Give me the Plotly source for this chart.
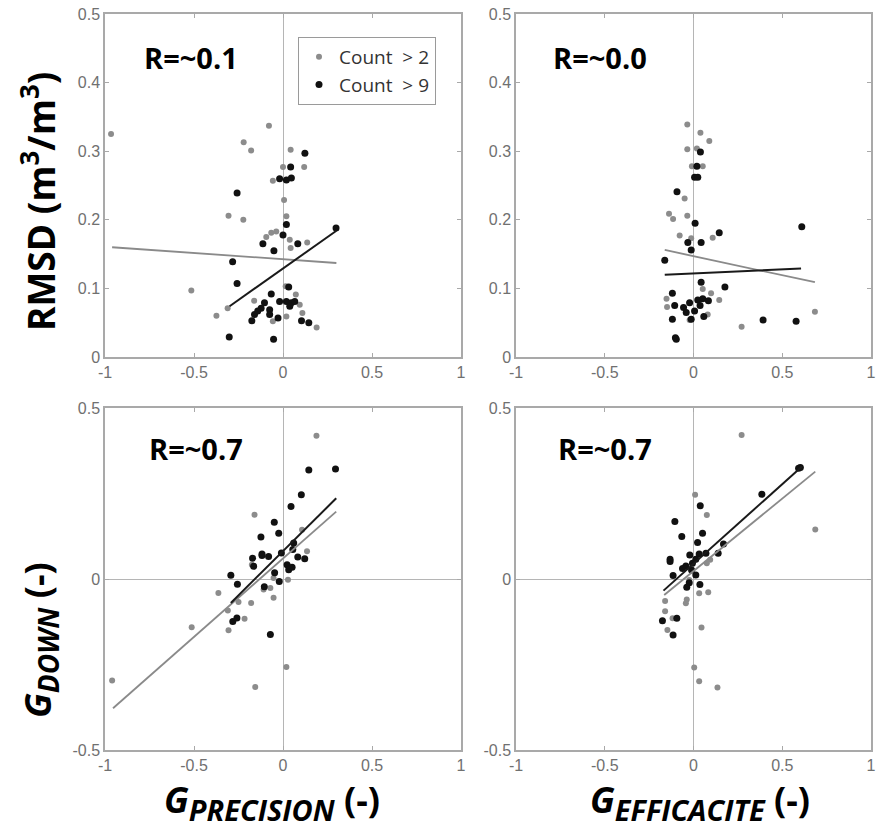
import plotly.graph_objects as go

# ---------------- data ----------------
# Panel A: RMSD vs G_PRECISION
tl_gray_x = [-0.966, -0.079, -0.221, -0.179, 0.043, 0.000, 0.119, -0.057, 0.006, -0.306, -0.223, 0.019,
             -0.094, -0.066, -0.038, 0.038, 0.043, 0.136, -0.515, -0.311, -0.374, -0.162, -0.057, 0.019,
             0.072, 0.094, 0.109, 0.189, 0.015]
tl_gray_y = [0.325, 0.337, 0.313, 0.301, 0.302, 0.277, 0.277, 0.257, 0.229, 0.206, 0.200, 0.205,
             0.175, 0.181, 0.183, 0.171, 0.159, 0.167, 0.097, 0.071, 0.060, 0.082, 0.052, 0.059,
             0.091, 0.076, 0.064, 0.043, 0.103]
tl_black_x = [0.123, 0.043, -0.019, 0.019, 0.047, -0.258, 0.019, 0.000, -0.113, 0.083, -0.051, 0.298,
              -0.283, -0.258, -0.066, 0.032, -0.019, 0.019, 0.047, 0.066, 0.038, -0.104, -0.123, -0.142,
              -0.160, -0.075, -0.075, -0.175, -0.028, 0.104, 0.145, -0.302, -0.053]
tl_black_y = [0.297, 0.277, 0.260, 0.258, 0.261, 0.239, 0.193, 0.178, 0.165, 0.165, 0.155, 0.188,
              0.139, 0.107, 0.092, 0.102, 0.081, 0.081, 0.079, 0.081, 0.074, 0.079, 0.071, 0.067,
              0.062, 0.069, 0.062, 0.053, 0.057, 0.053, 0.050, 0.029, 0.026]
tl_gray_fit_x = [-0.96, 0.30]
tl_gray_fit_y = [0.160, 0.137]
tl_black_fit_x = [-0.30, 0.30]
tl_black_fit_y = [0.074, 0.184]

# Panel B: RMSD vs G_EFFICACITE
tr_gray_x = [-0.035, 0.039, 0.089, -0.035, 0.019, -0.009, 0.052, -0.050, -0.138, -0.115, -0.035, -0.078,
             -0.013, 0.108, -0.152, -0.149, 0.099, 0.145, 0.080, 0.271, 0.684, -0.022, 0.052]
tr_gray_y = [0.339, 0.327, 0.315, 0.303, 0.304, 0.278, 0.278, 0.231, 0.209, 0.201, 0.206, 0.177,
             0.173, 0.174, 0.085, 0.073, 0.093, 0.083, 0.062, 0.044, 0.066, 0.054, 0.099]
tr_black_x = [0.039, 0.019, 0.006, 0.024, -0.093, 0.009, 0.145, -0.032, 0.043, -0.013, -0.162, 0.610,
              0.043, 0.177, -0.119, -0.106, -0.056, -0.022, 0.024, 0.052, 0.084, -0.041, 0.006, 0.037,
              -0.119, -0.013, 0.058, 0.392, 0.578, -0.102, -0.097]
tr_black_y = [0.299, 0.278, 0.262, 0.262, 0.241, 0.195, 0.181, 0.167, 0.167, 0.156, 0.141, 0.190,
              0.109, 0.102, 0.093, 0.075, 0.072, 0.079, 0.083, 0.085, 0.082, 0.065, 0.067, 0.075,
              0.055, 0.055, 0.059, 0.054, 0.052, 0.028, 0.026]
tr_gray_fit_x = [-0.162, 0.684]
tr_gray_fit_y = [0.156, 0.109]
tr_black_fit_x = [-0.162, 0.606]
tr_black_fit_y = [0.120, 0.129]

# Panel C: G_DOWN vs G_PRECISION
bl_gray_x = [-0.960, 0.188, -0.160, -0.513, -0.363, -0.310, -0.306, -0.250, -0.179, -0.216, -0.053,
             -0.156, 0.019, 0.135, -0.071, -0.175, 0.028, 0.107, -0.109, -0.053]
bl_gray_y = [-0.297, 0.419, 0.188, -0.141, -0.041, -0.092, -0.150, -0.067, -0.070, -0.116, -0.055,
             -0.316, -0.257, 0.081, -0.026, 0.042, -0.002, 0.144, -0.031, 0.003]
bl_black_x = [0.295, 0.145, 0.103, 0.045, -0.049, -0.024, -0.124, -0.171, -0.118, -0.081, -0.009, 0.060,
              0.055, 0.083, 0.122, 0.023, 0.032, 0.051, -0.047, -0.021, -0.165, -0.293, -0.256, -0.105,
              -0.282, -0.259, -0.071, -0.118]
bl_black_y = [0.322, 0.319, 0.246, 0.212, 0.166, 0.134, 0.123, 0.061, 0.069, 0.066, 0.076, 0.105,
              0.086, 0.064, 0.059, 0.042, 0.027, 0.034, 0.018, -0.007, 0.037, 0.011, -0.015, -0.023,
              -0.124, -0.114, -0.162, 0.073]
bl_gray_fit_x = [-0.955, 0.299]
bl_gray_fit_y = [-0.378, 0.197]
bl_black_fit_x = [-0.293, 0.299]
bl_black_fit_y = [-0.070, 0.236]

# Panel D: G_DOWN vs G_EFFICACITE
br_gray_x = [0.271, 0.009, 0.075, 0.686, 0.094, 0.032, 0.083, -0.038, -0.043, -0.160, -0.160, -0.118,
             -0.147, 0.045, 0.004, 0.032, 0.135, -0.024, 0.075]
br_gray_y = [0.421, 0.246, 0.187, 0.145, 0.056, -0.042, -0.039, -0.060, -0.071, -0.064, -0.094, -0.115,
             -0.149, -0.142, -0.259, -0.299, -0.317, -0.003, 0.046]
br_black_x = [0.602, 0.592, 0.385, 0.038, -0.105, 0.051, -0.066, 0.023, 0.169, -0.132, -0.132, -0.021,
              0.032, 0.070, 0.139, -0.043, -0.006, 0.013, -0.011, 0.013, -0.115, -0.024, 0.036, -0.038,
              -0.175, -0.094, -0.115, -0.062]
br_black_y = [0.326, 0.324, 0.248, 0.214, 0.168, 0.134, 0.124, 0.107, 0.102, 0.058, 0.051, 0.070,
              0.073, 0.075, 0.075, 0.038, 0.046, 0.058, 0.026, 0.012, 0.010, -0.011, -0.016, -0.024,
              -0.122, -0.115, -0.164, 0.031]
br_gray_fit_x = [-0.165, 0.686]
br_gray_fit_y = [-0.047, 0.314]
br_black_fit_x = [-0.169, 0.611]
br_black_fit_y = [-0.034, 0.329]

r_labels = ["R=~0.1", "R=~0.0", "R=~0.7", "R=~0.7"]
legend_names = ["Count\u00a0\u00a0> 2", "Count\u00a0\u00a0> 9"]

x_ticks = [-1, -0.5, 0, 0.5, 1]
x_tick_text = ["-1", "-0.5", "0", "0.5", "1"]
top_y_ticks = [0, 0.1, 0.2, 0.3, 0.4, 0.5]
top_y_tick_text = ["0", "0.1", "0.2", "0.3", "0.4", "0.5"]
bot_y_ticks = [-0.5, 0, 0.5]
bot_y_tick_text = ["-0.5", "0", "0.5"]

# ---------------- style ----------------
W, H = 877, 833
GRAY = "#8c8c8c"
BLACK = "#111111"
GRAY_LINE = "#8a8a8a"
BLACK_LINE = "#1a1a1a"
AXIS_COL = "#a9a9a9"
TICK_FONT = dict(family="Liberation Sans, Arial, sans-serif", size=16, color="#707070")
BOLD_FONT = "Open Sans, Noto Sans, sans-serif"

def px_x(p):
    return p / W

def px_y(p):
    return 1 - p / H

left_dom = [px_x(105), px_x(461)]
right_dom = [px_x(516), px_x(871)]
top_dom = [px_y(357), px_y(14)]
bot_dom = [px_y(750), px_y(408)]

panels = [
    (tl_gray_x, tl_gray_y, tl_black_x, tl_black_y, tl_gray_fit_x, tl_gray_fit_y, tl_black_fit_x, tl_black_fit_y),
    (tr_gray_x, tr_gray_y, tr_black_x, tr_black_y, tr_gray_fit_x, tr_gray_fit_y, tr_black_fit_x, tr_black_fit_y),
    (bl_gray_x, bl_gray_y, bl_black_x, bl_black_y, bl_gray_fit_x, bl_gray_fit_y, bl_black_fit_x, bl_black_fit_y),
    (br_gray_x, br_gray_y, br_black_x, br_black_y, br_gray_fit_x, br_gray_fit_y, br_black_fit_x, br_black_fit_y),
]

fig = go.Figure()
for i, (gx, gy, bx, by, gfx, gfy, bfx, bfy) in enumerate(panels):
    xa = "x" if i == 0 else f"x{i+1}"
    ya = "y" if i == 0 else f"y{i+1}"
    fig.add_trace(go.Scatter(x=gx, y=gy, mode="markers", xaxis=xa, yaxis=ya,
                             marker=dict(color=GRAY, size=6, line=dict(width=0)),
                             name=legend_names[0], showlegend=(i == 0)))
    fig.add_trace(go.Scatter(x=bx, y=by, mode="markers", xaxis=xa, yaxis=ya,
                             marker=dict(color=BLACK, size=7, line=dict(width=0)),
                             name=legend_names[1], showlegend=(i == 0)))
    fig.add_trace(go.Scatter(x=gfx, y=gfy, mode="lines", xaxis=xa, yaxis=ya,
                             line=dict(color=GRAY_LINE, width=1.8), showlegend=False))
    fig.add_trace(go.Scatter(x=bfx, y=bfy, mode="lines", xaxis=xa, yaxis=ya,
                             line=dict(color=BLACK_LINE, width=2), showlegend=False))

def axis_common():
    return dict(showline=True, linecolor=AXIS_COL, linewidth=1.5, mirror="ticks",
                ticks="inside", ticklen=4, tickwidth=1, tickcolor=AXIS_COL,
                showgrid=False, zeroline=True, zerolinecolor="#b5b5b5", zerolinewidth=1,
                tickfont=TICK_FONT, fixedrange=True, automargin=False)

layout_axes = {}
doms = [(left_dom, top_dom), (right_dom, top_dom), (left_dom, bot_dom), (right_dom, bot_dom)]
for i, (xd, yd) in enumerate(doms):
    xk = "xaxis" if i == 0 else f"xaxis{i+1}"
    yk = "yaxis" if i == 0 else f"yaxis{i+1}"
    xa = axis_common()
    xa.update(domain=xd, range=[-1, 1], tickvals=x_ticks, ticktext=x_tick_text,
              anchor="y" if i == 0 else f"y{i+1}")
    ya = axis_common()
    if i < 2:
        ya.update(range=[0, 0.5], tickvals=top_y_ticks, ticktext=top_y_tick_text, zeroline=False)
    else:
        ya.update(range=[-0.5, 0.5], tickvals=bot_y_ticks, ticktext=bot_y_tick_text)
    ya.update(domain=yd, anchor="x" if i == 0 else f"x{i+1}")
    layout_axes[xk] = xa
    layout_axes[yk] = ya

fig.update_layout(**layout_axes)

annotations = []
r_pos = [(191, 57), (600, 57), (196, 448), (605, 448)]
for lab, (cx, cy) in zip(r_labels, r_pos):
    annotations.append(dict(text=f"<b>{lab}</b>", x=px_x(cx), y=px_y(cy), xref="paper", yref="paper",
                            xanchor="center", yanchor="middle", showarrow=False,
                            font=dict(family=BOLD_FONT, size=29, color="#000000")))

annotations.append(dict(text="<b>RMSD (m<sup>3</sup>/m<sup>3</sup>)</b>", x=px_x(38), y=px_y(202),
                        xref="paper", yref="paper", xanchor="center", yanchor="middle",
                        textangle=-90, showarrow=False,
                        font=dict(family=BOLD_FONT, size=37, color="#000000")))
annotations.append(dict(text="<b><i>G<sub><span style='font-size:28px'>DOWN</span></sub></i> (-)</b>",
                        x=px_x(40), y=px_y(640),
                        xref="paper", yref="paper", xanchor="center", yanchor="middle",
                        textangle=-90, showarrow=False,
                        font=dict(family=BOLD_FONT, size=36, color="#000000")))
annotations.append(dict(text="<b><i>G<sub><span style='font-size:29px'>PRECISION</span></sub></i> (-)</b>",
                        x=px_x(272), y=px_y(802),
                        xref="paper", yref="paper", xanchor="center", yanchor="middle",
                        showarrow=False,
                        font=dict(family=BOLD_FONT, size=36, color="#000000")))
annotations.append(dict(text="<b><i>G<sub><span style='font-size:29px'>EFFICACITE</span></sub></i> (-)</b>",
                        x=px_x(700), y=px_y(802),
                        xref="paper", yref="paper", xanchor="center", yanchor="middle",
                        showarrow=False,
                        font=dict(family=BOLD_FONT, size=36, color="#000000")))

fig.update_layout(
    width=W, height=H,
    margin=dict(l=0, r=0, t=0, b=0, pad=0, autoexpand=False),
    paper_bgcolor="white", plot_bgcolor="white",
    annotations=annotations,
    legend=dict(x=px_x(298), y=px_y(37), xanchor="left", yanchor="top",
                bgcolor="white", bordercolor="#9a9a9a", borderwidth=1,
                font=dict(family="Open Sans, Noto Sans, sans-serif", size=19, color="#333333"),
                itemsizing="trace", tracegroupgap=0),
    showlegend=True,
)

fig.write_html("out.html", config={"displayModeBar": False},
               post_script="document.body.style.margin='0px';document.body.style.overflow='hidden';")
